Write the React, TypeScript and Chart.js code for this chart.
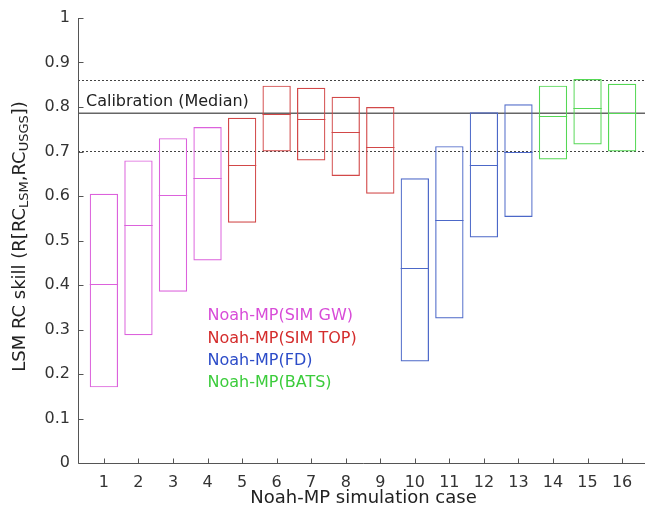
import React, { useEffect, useRef } from "react";
import { Chart, registerables } from "chart.js";

Chart.register(...registerables);

// ---- data ----
const cases = [1, 2, 3, 4, 5, 6, 7, 8, 9, 10, 11, 12, 13, 14, 15, 16];
const boxLow = [0.17, 0.287, 0.385, 0.455, 0.54, 0.7, 0.68, 0.645, 0.605, 0.228, 0.325, 0.507, 0.553, 0.682, 0.716, 0.7];
const boxHigh = [0.605, 0.68, 0.73, 0.755, 0.776, 0.848, 0.843, 0.823, 0.8, 0.64, 0.712, 0.788, 0.806, 0.848, 0.863, 0.852];
const boxMedian = [0.402, 0.535, 0.602, 0.641, 0.67, 0.785, 0.773, 0.744, 0.71, 0.438, 0.545, 0.67, 0.7, 0.78, 0.798, 0.787];
const groupOf = [0, 0, 0, 0, 1, 1, 1, 1, 1, 2, 2, 2, 2, 3, 3, 3];
const groupNames = ["Noah-MP(SIM GW)", "Noah-MP(SIM TOP)", "Noah-MP(FD)", "Noah-MP(BATS)"];
const groupBoxColors = ["#dc62dc", "#d24848", "#4c68c8", "#55d855"];
const groupTextColors = ["#d84cd8", "#d42c2c", "#2c4cc8", "#3ccc3c"];
const calibrationMedian = 0.786;
const calibrationLow = 0.701;
const calibrationHigh = 0.86;
const calibrationLabel = "Calibration (Median)";
const yTicks = [0, 0.1, 0.2, 0.3, 0.4, 0.5, 0.6, 0.7, 0.8, 0.9, 1];
const xTitle = "Noah-MP simulation case";

const FONT = "'DejaVu Sans', sans-serif";

const overlay = {
  id: "overlay",
  beforeDatasetsDraw(chart: any) {
    const { ctx, chartArea, scales } = chart;
    const y = scales.y;
    ctx.save();
    ctx.lineWidth = 1;
    ctx.strokeStyle = "#444";
    const lines = [
      { v: calibrationHigh, dash: [2, 2] },
      { v: calibrationLow, dash: [2, 2] },
    ];
    for (const l of lines) {
      const py = Math.round(y.getPixelForValue(l.v)) + 0.5;
      ctx.setLineDash(l.dash);
      ctx.beginPath();
      ctx.moveTo(chartArea.left, py);
      ctx.lineTo(chartArea.right, py);
      ctx.stroke();
    }
    ctx.setLineDash([]);
    ctx.strokeStyle = "#666";
    ctx.lineWidth = 1.3;
    const pm = y.getPixelForValue(calibrationMedian);
    ctx.beginPath();
    ctx.moveTo(chartArea.left, pm);
    ctx.lineTo(chartArea.right, pm);
    ctx.stroke();
    ctx.restore();
  },
  afterDatasetsDraw(chart: any) {
    const { ctx, scales } = chart;
    const meta = chart.getDatasetMeta(0);
    ctx.save();
    ctx.lineWidth = 1;
    meta.data.forEach((bar: any, i: number) => {
      const half = bar.width / 2;
      const py = Math.round(scales.y.getPixelForValue(boxMedian[i])) + 0.5;
      ctx.strokeStyle = groupBoxColors[groupOf[i]];
      ctx.beginPath();
      ctx.moveTo(bar.x - half, py);
      ctx.lineTo(bar.x + half, py);
      ctx.stroke();
    });
    ctx.restore();
  },
  afterDraw(chart: any) {
    const { ctx, chartArea, scales } = chart;
    const xs = scales.x;
    const ys = scales.y;
    ctx.save();
    // axes
    ctx.strokeStyle = "#555";
    ctx.lineWidth = 1;
    const left = Math.round(chartArea.left) + 0.5;
    const bottom = Math.round(chartArea.bottom) + 0.5;
    ctx.beginPath();
    ctx.moveTo(left, chartArea.top);
    ctx.lineTo(left, bottom);
    ctx.lineTo(chartArea.right, bottom);
    ctx.stroke();
    // inward ticks
    ctx.beginPath();
    for (const v of yTicks) {
      const py = Math.round(ys.getPixelForValue(v)) + 0.5;
      ctx.moveTo(left, py);
      ctx.lineTo(left + 5, py);
    }
    for (const c of cases) {
      const px = Math.round(xs.getPixelForValue(c)) + 0.5;
      ctx.moveTo(px, bottom);
      ctx.lineTo(px, bottom - 5);
    }
    ctx.stroke();

    // calibration label
    ctx.fillStyle = "#222";
    ctx.font = `16px ${FONT}`;
    ctx.textBaseline = "middle";
    ctx.textAlign = "left";
    ctx.fillText(calibrationLabel, 86, ys.getPixelForValue(calibrationMedian) - 11);

    // group legend text
    const lx = xs.getPixelForValue(4.0);
    groupNames.forEach((name, i) => {
      ctx.fillStyle = groupTextColors[i];
      ctx.fillText(name, lx, ys.getPixelForValue(0.33) + i * 22.3);
    });

    // x title
    ctx.fillStyle = "#222";
    ctx.font = `18px ${FONT}`;
    ctx.textAlign = "center";
    ctx.fillText(xTitle, (chartArea.left + 645) / 2 + 2, 498);

    // y title with subscripts
    const parts = [
      { t: "LSM RC skill (R[RC", sub: false },
      { t: "LSM", sub: true },
      { t: ",RC", sub: false },
      { t: "USGS", sub: true },
      { t: "])", sub: false },
    ];
    const mainFont = `18px ${FONT}`;
    const subFont = `13px ${FONT}`;
    let total = 0;
    const widths = parts.map((p) => {
      ctx.font = p.sub ? subFont : mainFont;
      const w = ctx.measureText(p.t).width;
      total += w;
      return w;
    });
    ctx.translate(20, (chartArea.top + chartArea.bottom) / 2 - 4);
    ctx.rotate(-Math.PI / 2);
    ctx.textAlign = "left";
    let cx = -total / 2;
    parts.forEach((p, i) => {
      ctx.font = p.sub ? subFont : mainFont;
      ctx.fillText(p.t, cx, p.sub ? 5 : 0);
      cx += widths[i];
    });
    ctx.restore();
  },
};

export default function App() {
  const ref = useRef<HTMLCanvasElement | null>(null);
  useEffect(() => {
    if (!ref.current) return;
    const chart = new Chart(ref.current, {
      type: "bar",
      data: {
        datasets: [
          {
            data: cases.map((c, i) => ({ x: c, y: [boxLow[i], boxHigh[i]] })) as any,
            backgroundColor: "rgba(0,0,0,0)",
            borderColor: cases.map((_, i) => groupBoxColors[groupOf[i]]),
            borderWidth: 1.2,
            borderSkipped: false,
            barPercentage: 0.82,
            categoryPercentage: 1,
          },
        ],
      },
      options: {
        animation: false,
        responsive: false,
        devicePixelRatio: 1,
        layout: { padding: { top: 18, right: 12, left: 0, bottom: 0 } },
        plugins: { legend: { display: false }, tooltip: { enabled: false } },
        scales: {
          x: {
            type: "linear",
            offset: false,
            min: 0.25,
            max: 16.75,
            grid: { display: false, drawTicks: false, offset: false },
            border: { display: false },
            afterBuildTicks: (s: any) => {
              s.ticks = cases.map((v) => ({ value: v }));
            },
            afterFit: (s: any) => {
              s.height = 49;
            },
            ticks: {
              padding: 10,
              color: "#333",
              font: { family: FONT, size: 16 },
              autoSkip: false,
              maxRotation: 0,
              callback: (v: any) => String(v),
            },
          },
          y: {
            min: 0,
            max: 1,
            grid: { display: false, drawTicks: false },
            border: { display: false },
            afterBuildTicks: (s: any) => {
              s.ticks = yTicks.map((v) => ({ value: v }));
            },
            afterFit: (s: any) => {
              s.width = 78;
            },
            ticks: {
              padding: 8,
              color: "#333",
              font: { family: FONT, size: 16 },
              callback: (v: any) => String(Number(Number(v).toFixed(1))),
            },
          },
        },
      },
      plugins: [overlay],
    } as any);
    return () => chart.destroy();
  }, []);
  return (
    <div style={{ position: "fixed", left: 0, top: 0, width: 645, height: 512, overflow: "hidden", background: "#fff" }}>
      <canvas ref={ref} width={660} height={512} style={{ display: "block" }} />
    </div>
  );
}
